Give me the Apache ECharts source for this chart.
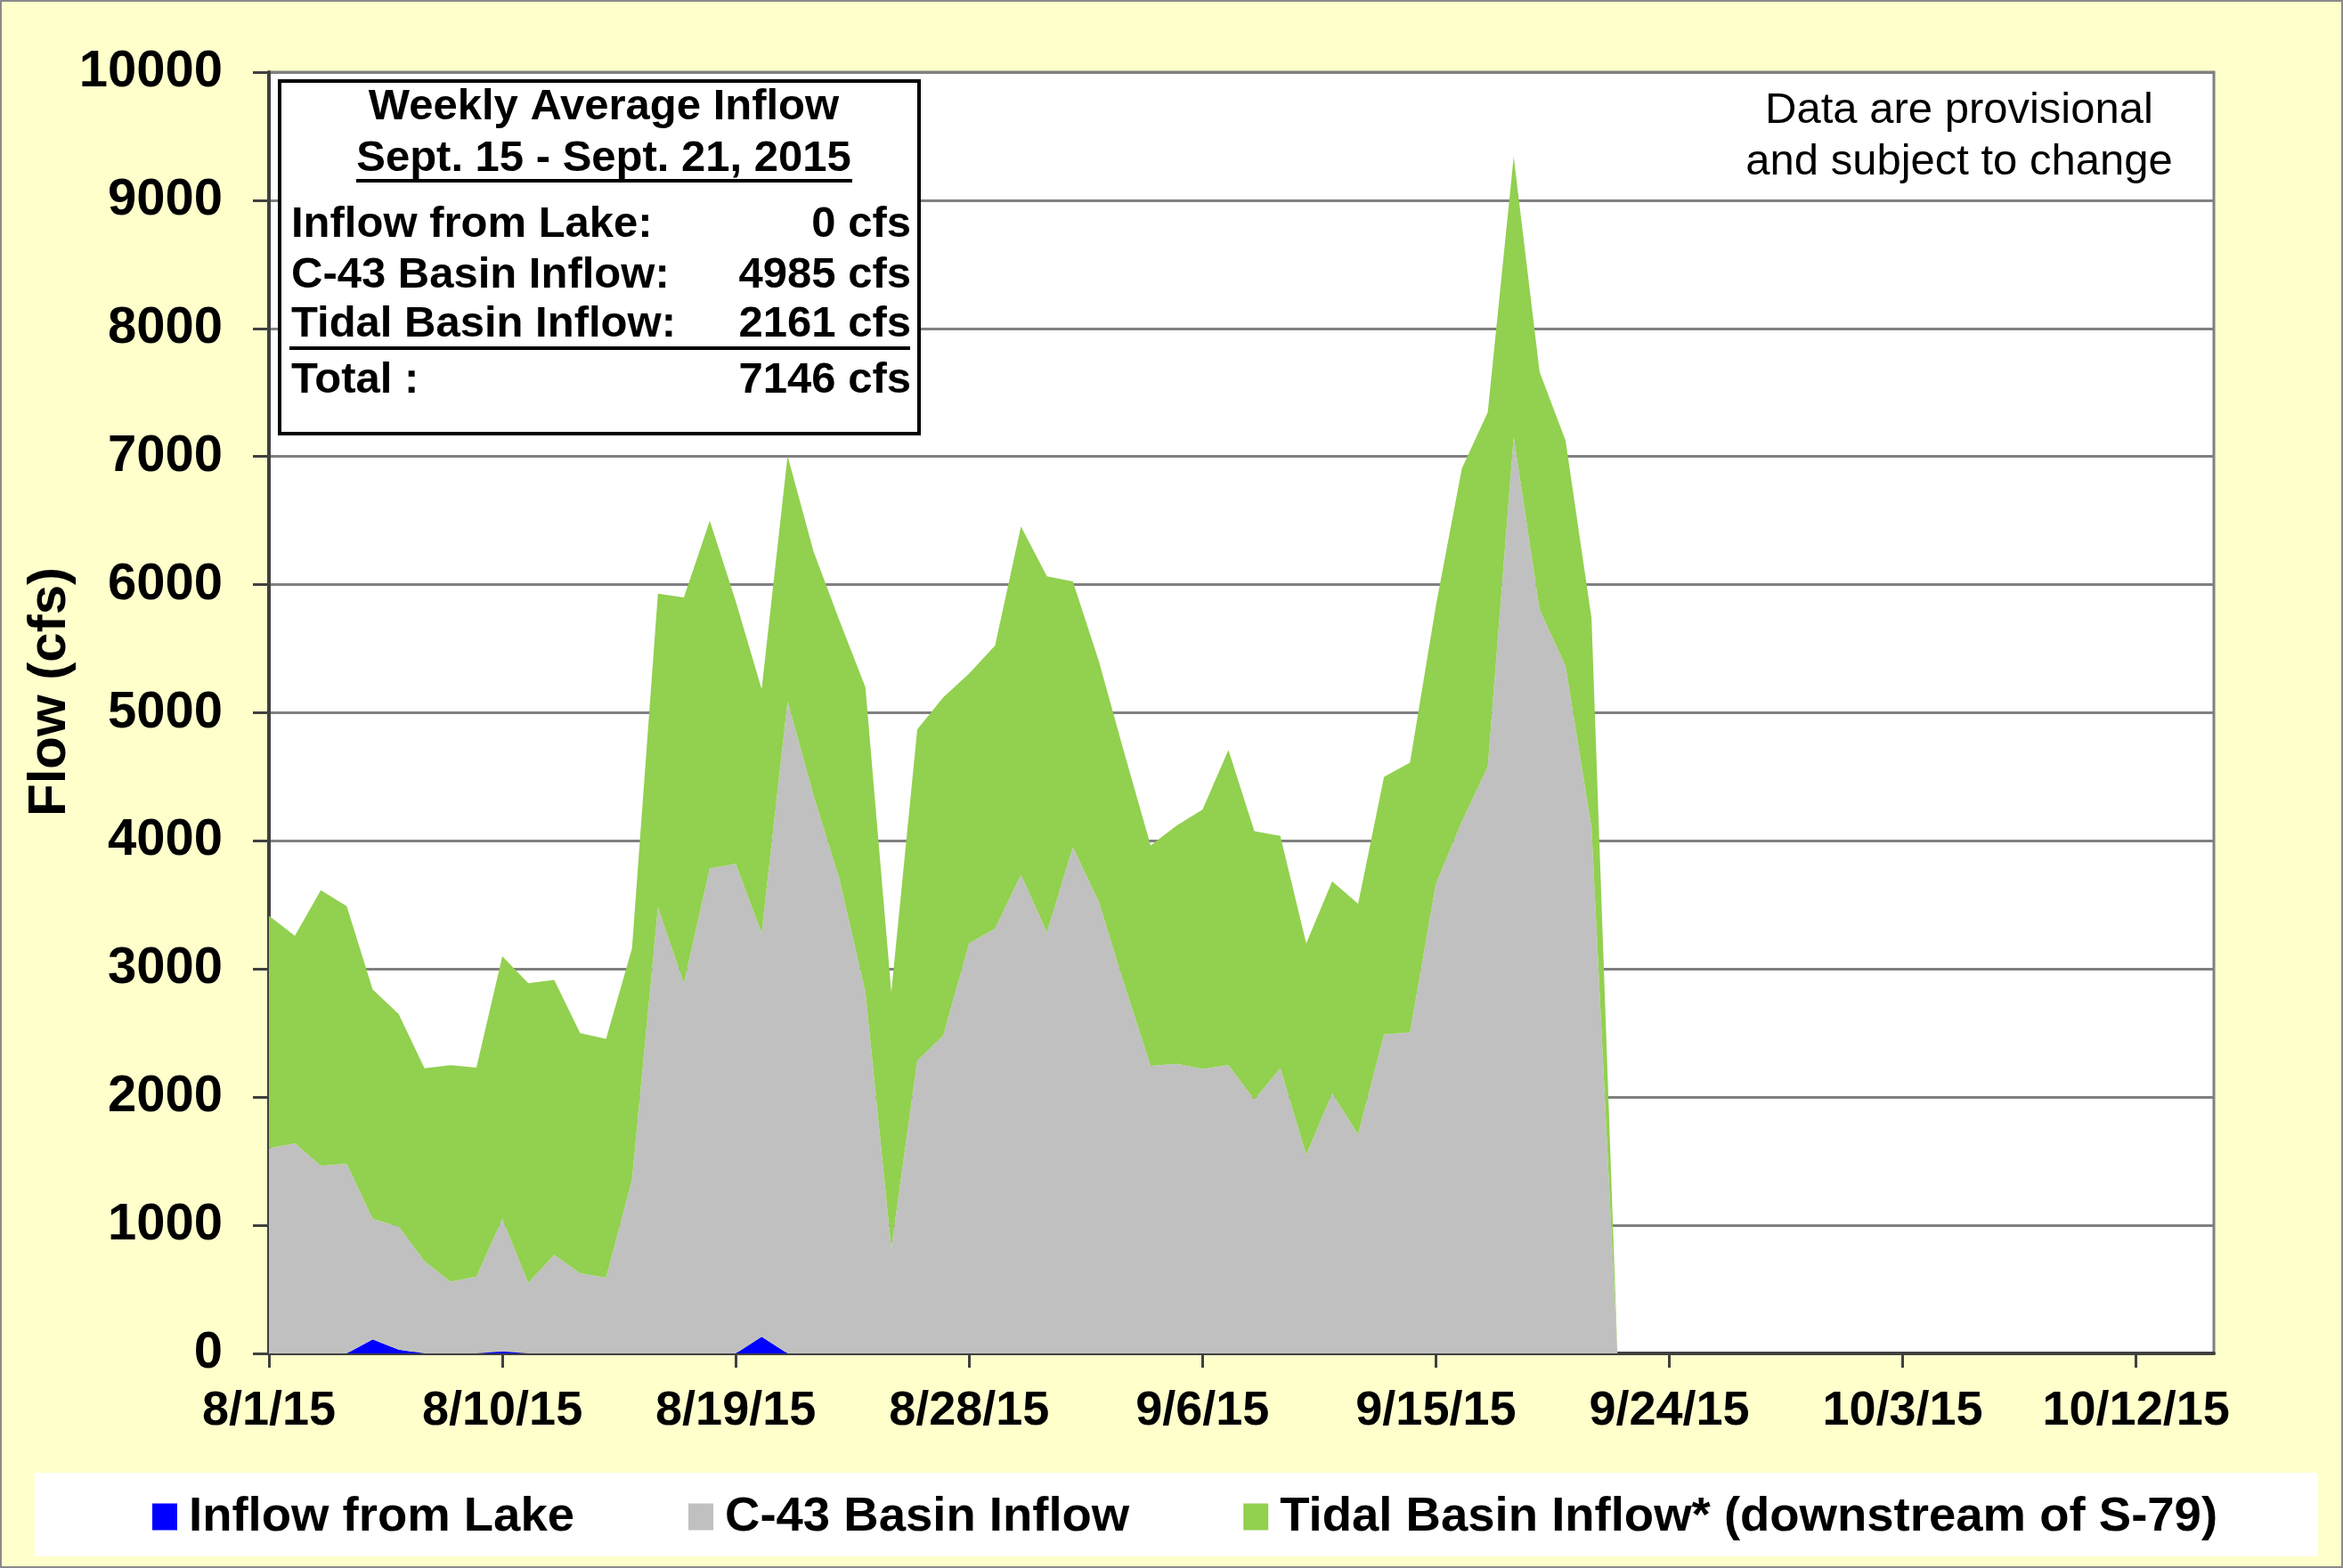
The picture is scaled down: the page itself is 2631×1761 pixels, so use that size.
<!DOCTYPE html>
<html><head><meta charset="utf-8">
<script src="https://cdn.jsdelivr.net/npm/echarts@6/dist/echarts.min.js"></script>
<style>
html,body{margin:0;padding:0;background:#FFFFCC;}
#c{width:2631px;height:1761px;box-sizing:border-box;border:2px solid #8a8a8a;}
</style></head><body><div id="c"></div>
<script>
const dates = [
"8/1/15","8/2/15","8/3/15","8/4/15","8/5/15","8/6/15","8/7/15","8/8/15","8/9/15","8/10/15",
"8/11/15","8/12/15","8/13/15","8/14/15","8/15/15","8/16/15","8/17/15","8/18/15","8/19/15","8/20/15",
"8/21/15","8/22/15","8/23/15","8/24/15","8/25/15","8/26/15","8/27/15","8/28/15","8/29/15","8/30/15",
"8/31/15","9/1/15","9/2/15","9/3/15","9/4/15","9/5/15","9/6/15","9/7/15","9/8/15","9/9/15",
"9/10/15","9/11/15","9/12/15","9/13/15","9/14/15","9/15/15","9/16/15","9/17/15","9/18/15","9/19/15",
"9/20/15","9/21/15","9/22/15","9/23/15","9/24/15","9/25/15","9/26/15","9/27/15","9/28/15","9/29/15",
"9/30/15","10/1/15","10/2/15","10/3/15","10/4/15","10/5/15","10/6/15","10/7/15","10/8/15","10/9/15",
"10/10/15","10/11/15","10/12/15","10/13/15","10/14/15","10/15/15"];

const inflowFromLake = [0,0,0,0,110,30,0,0,0,15, 0,0,0,0,0,0,0,0,0,130, 0,0,0,0,0,0,0,0,0,0,
 0,0,0,0,0,0,0,0,0,0, 0,0,0,0,0,0,0,0,0,0, 0,0,0];
const c43BasinInflow = [1600,1640,1465,1480,940,960,720,560,600,1035, 550,770,625,590,1355,3480,2890,3785,3820,3150,
 5090,4355,3700,2820,820,2285,2480,3200,3315,3735, 3285,3950,3525,2870,2245,2260,2220,2250,1980,2225,
 1550,2030,1710,2490,2505,3665,4150,4580,7155,5805, 5365,4105,0];
const tidalBasinInflow = [1815,1620,2150,2010,1790,1660,1505,1690,1630,2050, 2340,2145,1875,1865,1805,2450,3010,2715,2050,1905,
 1915,1905,2020,2380,2000,2585,2640,2105,2210,2720, 2780,2075,1880,1805,1720,1860,2025,2460,2095,1815,
 1650,1655,1800,2010,2105,2170,2755,2765,2185,1855, 1760,1635,0];

const yTicks = {min:0, max:10000, interval:1000};
const seriesNames = ["Inflow from Lake","C-43 Basin Inflow","Tidal Basin Inflow* (downstream of S-79)"];
const yTitle = "Flow (cfs)";
const boxTitle = "Weekly Average Inflow";
const boxPeriod = "Sept. 15 - Sept. 21, 2015";
const boxRows = [["Inflow from Lake:","0 cfs"],["C-43 Basin Inflow:","4985 cfs"],["Tidal Basin Inflow:","2161 cfs"],["Total :","7146 cfs"]];
const noteLines = ["Data are provisional","and subject to change"];

const FF = '"Liberation Sans", Arial, sans-serif';
const chart = echarts.init(document.getElementById('c'), null, {renderer:'canvas'});

const rowY = [250, 307, 362, 425];
const graphics = [
  {type:'rect', shape:{x:37,y:1652,width:2564,height:94}, style:{fill:'#ffffff'}, z:-1, silent:true},
  {type:'rect', shape:{x:312,y:89,width:718,height:396}, style:{fill:'#ffffff', stroke:'#000', lineWidth:4}, z:10},
  {type:'text', x:676, y:118, style:{text:boxTitle, font:'bold 49px '+FF, fill:'#000', align:'center', verticalAlign:'middle'}, z:11},
  {type:'text', x:676, y:176, style:{text:boxPeriod, font:'bold 49px '+FF, fill:'#000', align:'center', verticalAlign:'middle'}, z:11},
  {type:'line', shape:{x1:398,y1:201,x2:955,y2:201}, style:{stroke:'#000', lineWidth:4}, z:11},
  {type:'line', shape:{x1:323,y1:389,x2:1020,y2:389}, style:{stroke:'#000', lineWidth:4}, z:11},
  {type:'text', x:54, y:775, rotation:Math.PI/2, style:{text:yTitle, font:'bold 60px '+FF, fill:'#000', align:'center', verticalAlign:'middle'}, z:11}
];
boxRows.forEach((r,i)=>{
  graphics.push({type:'text', x:325, y:rowY[i], style:{text:r[0], font:'bold 49px '+FF, fill:'#000', align:'left', verticalAlign:'middle'}, z:11});
  graphics.push({type:'text', x:1021, y:rowY[i], style:{text:r[1], font:'bold 49px '+FF, fill:'#000', align:'right', verticalAlign:'middle'}, z:11});
});
noteLines.forEach((t,i)=>{
  graphics.push({type:'text', x:2198, y:122+58*i, style:{text:t, font:'49px '+FF, fill:'#000', align:'center', verticalAlign:'middle'}, z:11});
});

const mkSeries = (name, data, color) => ({
  name, type:'line', stack:'total', data, symbol:'none', showSymbol:false,
  lineStyle:{width:0}, areaStyle:{color, opacity:1}, itemStyle:{color}, emphasis:{disabled:true}
});

chart.setOption({
  animation:false,
  backgroundColor:'#FFFFCC',
  textStyle:{fontFamily:FF},
  grid:{left:300, top:79, right:143, bottom:239, show:true, backgroundColor:'#ffffff', borderColor:'#808080', borderWidth:3, containLabel:false},
  legend:{
    left:164, top:1669, icon:'rect', itemWidth:28, itemHeight:30, itemGap:128,
    textStyle:{fontSize:54.5, fontWeight:'bold', color:'#000', fontFamily:FF, padding:[0,0,0,8]},
    data:seriesNames
  },
  xAxis:{
    type:'category', data:dates, boundaryGap:false,
    axisLine:{lineStyle:{color:'#404040', width:4}},
    axisTick:{interval:8, length:16, lineStyle:{color:'#404040', width:3}},
    axisLabel:{interval:8, margin:38, fontSize:54, fontWeight:'bold', color:'#000', fontFamily:FF},
    splitLine:{show:false}
  },
  yAxis:{
    type:'value', min:yTicks.min, max:yTicks.max, interval:yTicks.interval,
    axisLine:{show:true, lineStyle:{color:'#404040', width:4}},
    axisTick:{show:true, length:18, lineStyle:{color:'#404040', width:3}},
    axisLabel:{margin:52, fontSize:58, fontWeight:'bold', color:'#000', fontFamily:FF, formatter:(v)=>String(v)},
    splitLine:{lineStyle:{color:'#808080', width:3}}
  },
  series:[
    mkSeries(seriesNames[0], inflowFromLake, '#0000FF'),
    mkSeries(seriesNames[1], c43BasinInflow, '#C0C0C0'),
    mkSeries(seriesNames[2], tidalBasinInflow, '#92D050')
  ],
  graphic:graphics
});
</script></body></html>
